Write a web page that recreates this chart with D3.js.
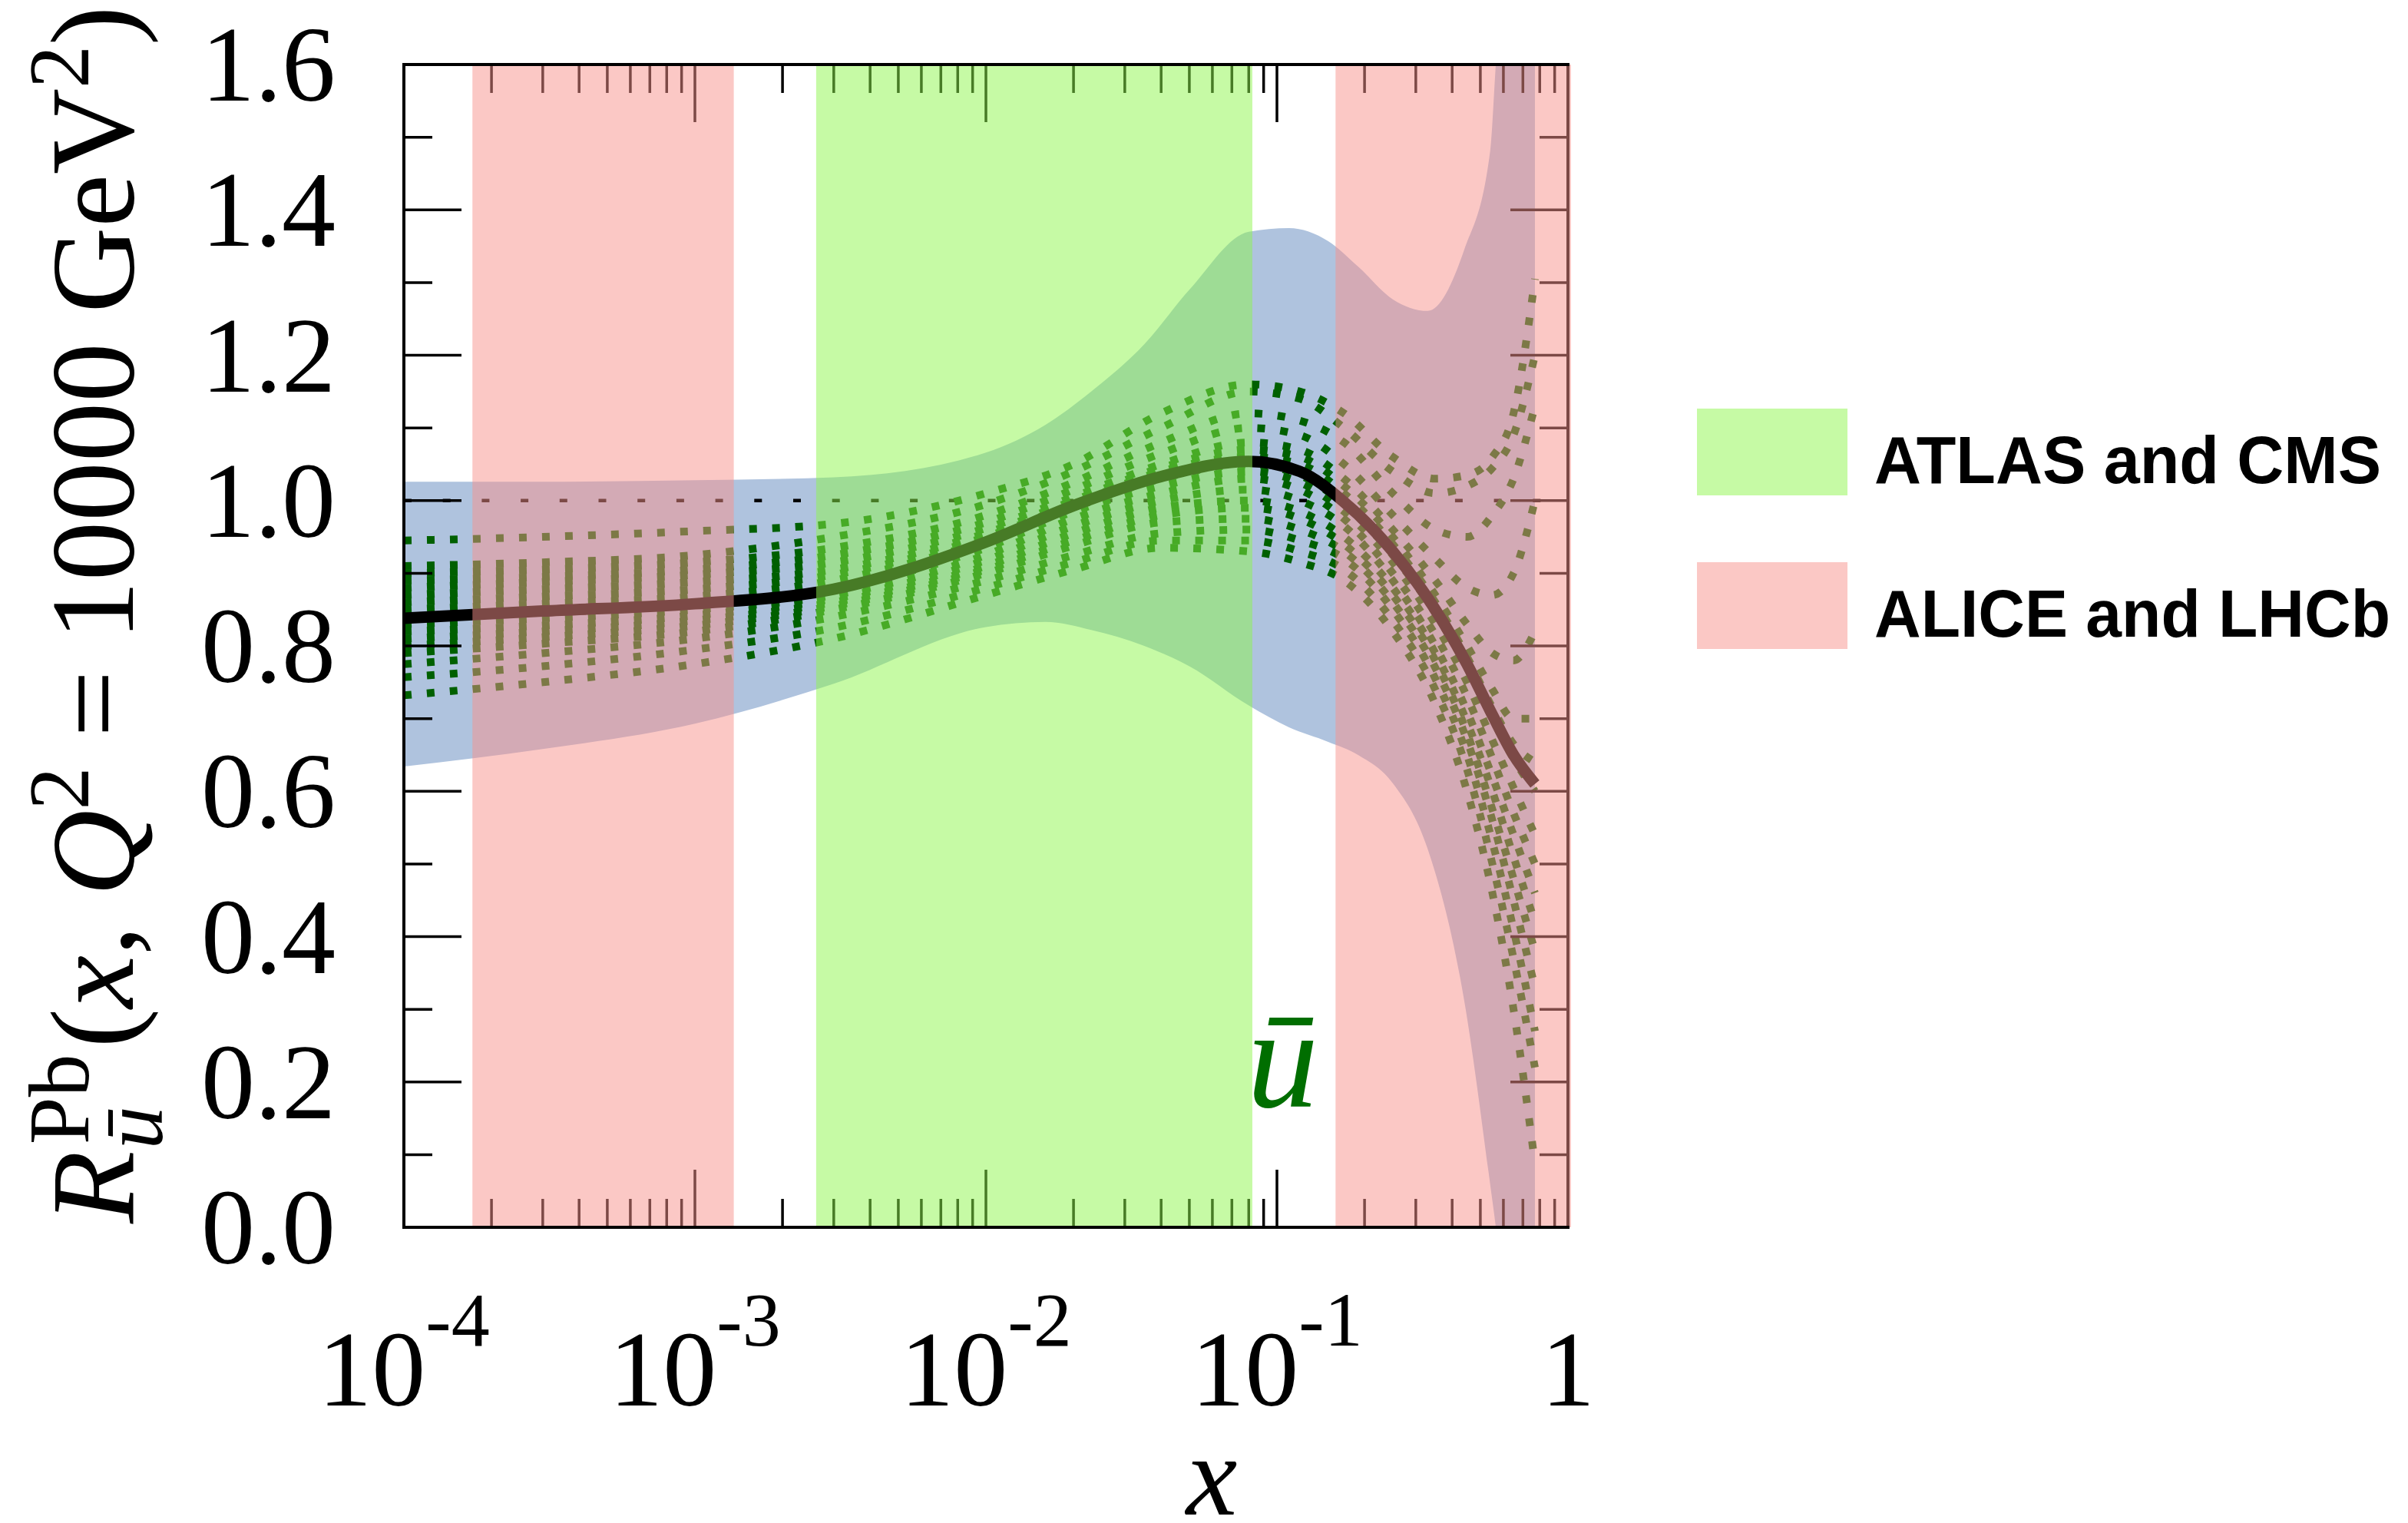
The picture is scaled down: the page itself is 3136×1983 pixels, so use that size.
<!DOCTYPE html>
<html>
<head>
<meta charset="utf-8">
<title>R ubar Pb</title>
<script src="https://cdn.jsdelivr.net/npm/d3@7"></script>
<style>
  body { margin: 0; background: #fff; }
  svg { display: block; }
</style>
</head>
<body>
<svg id="chart" width="3136" height="1983"></svg>
<script>
var xKnots = [1e-4, 3e-4, 1e-3, 3e-3, 1e-2, 2e-2, 4e-2, 0.08, 0.12, 0.17, 0.25, 0.35, 0.45, 0.55, 0.65, 0.77];

// central fit (thick line)
var central = [0.838, 0.848, 0.858, 0.878, 0.943, 0.993, 1.033, 1.054, 1.040, 0.998, 0.930, 0.850, 0.775, 0.705, 0.650, 0.610];

// error members (dotted lines)
var members = [
  [0.945, 0.950, 0.958, 0.968, 1.010, 1.050, 1.120, 1.160, 1.150, 1.120, 1.060, 1.030, 1.035, 1.060, 1.120, 1.305],
  [0.910, 0.915, 0.925, 0.950, 0.995, 1.040, 1.100, 1.150, 1.140, 1.100, 1.040, 1.010, 1.020, 1.045, 1.090, 1.200],
  [0.900, 0.905, 0.915, 0.935, 0.980, 1.025, 1.080, 1.120, 1.110, 1.080, 1.010, 0.960, 0.950, 0.980, 1.030, 1.130],
  [0.890, 0.895, 0.905, 0.925, 0.970, 1.015, 1.065, 1.100, 1.090, 1.050, 0.980, 0.920, 0.880, 0.870, 0.900, 1.000],
  [0.880, 0.888, 0.898, 0.915, 0.962, 1.005, 1.050, 1.080, 1.070, 1.030, 0.960, 0.890, 0.830, 0.790, 0.780, 0.820],
  [0.870, 0.878, 0.888, 0.905, 0.955, 1.000, 1.045, 1.070, 1.060, 1.020, 0.950, 0.870, 0.800, 0.740, 0.700, 0.700],
  [0.860, 0.868, 0.878, 0.898, 0.950, 0.995, 1.040, 1.060, 1.050, 1.010, 0.940, 0.860, 0.785, 0.715, 0.665, 0.640],
  [0.850, 0.858, 0.868, 0.890, 0.945, 0.990, 1.030, 1.050, 1.035, 0.995, 0.925, 0.845, 0.770, 0.700, 0.645, 0.600],
  [0.840, 0.848, 0.860, 0.880, 0.935, 0.985, 1.020, 1.040, 1.025, 0.985, 0.915, 0.830, 0.750, 0.670, 0.605, 0.540],
  [0.830, 0.838, 0.850, 0.870, 0.925, 0.975, 1.010, 1.030, 1.015, 0.975, 0.900, 0.815, 0.730, 0.645, 0.570, 0.500],
  [0.820, 0.828, 0.842, 0.865, 0.918, 0.965, 1.000, 1.015, 1.000, 0.965, 0.890, 0.800, 0.710, 0.620, 0.540, 0.460],
  [0.810, 0.820, 0.835, 0.860, 0.910, 0.955, 0.990, 1.000, 0.985, 0.950, 0.880, 0.790, 0.695, 0.600, 0.510, 0.420],
  [0.800, 0.812, 0.828, 0.855, 0.905, 0.945, 0.980, 0.990, 0.975, 0.940, 0.870, 0.780, 0.680, 0.575, 0.480, 0.380],
  [0.790, 0.803, 0.820, 0.850, 0.900, 0.938, 0.970, 0.975, 0.960, 0.930, 0.860, 0.770, 0.670, 0.560, 0.450, 0.330],
  [0.775, 0.790, 0.810, 0.840, 0.890, 0.925, 0.955, 0.960, 0.945, 0.920, 0.850, 0.755, 0.650, 0.530, 0.410, 0.270],
  [0.757, 0.772, 0.795, 0.825, 0.880, 0.915, 0.945, 0.945, 0.930, 0.905, 0.835, 0.740, 0.630, 0.500, 0.370, 0.220],
  [0.732, 0.750, 0.775, 0.810, 0.870, 0.905, 0.935, 0.930, 0.915, 0.890, 0.820, 0.720, 0.600, 0.460, 0.300, 0.088]
];

// uncertainty band (blue)
var bandX     = [1e-4, 3e-4, 1e-3, 3e-3, 1e-2, 1.6e-2, 2.3e-2, 3.5e-2, 5e-2, 8e-2, 0.11, 0.15, 0.19, 0.25, 0.33, 0.44, 0.54, 0.565, 0.65, 0.77];
var bandUpper = [1.026, 1.026, 1.028, 1.032, 1.066, 1.104, 1.150, 1.215, 1.290, 1.370, 1.375, 1.357, 1.322, 1.277, 1.261, 1.345, 1.480, 1.600, 1.950, 2.300];
var bandLower = [0.634, 0.658, 0.693, 0.748, 0.826, 0.833, 0.822, 0.800, 0.772, 0.718, 0.688, 0.668, 0.650, 0.611, 0.520, 0.312, 0.060, 0.000, -0.300, -0.600];

// kinematic ranges of the experiments
var alice = [[1.72e-4, 1.36e-3], [0.159, 1]];
var atlas = [[2.61e-3, 0.0823]];

var yTicks = [0, 0.2, 0.4, 0.6, 0.8, 1.0, 1.2, 1.4, 1.6];
var xTickVals = [1e-4, 1e-3, 1e-2, 1e-1, 1];
var xTickExps = ["-4", "-3", "-2", "-1", ""];
var legendLabels = ["ATLAS and CMS", "ALICE and LHCb"];

var serif = "'Liberation Serif', 'DejaVu Serif', serif";
var greenC = "#8df54b", redC = "#f8928c";

var svg = d3.select("#chart");
var pL = 526, pR = 2042, pT = 84, pB = 1598;

var x = d3.scaleLog().domain([1e-4, 1]).range([pL, pR]);
var y = d3.scaleLinear().domain([0, 1.6]).range([pB, pT]);

svg.append("rect").attr("width", 3136).attr("height", 1983).attr("fill", "#fff");

svg.append("defs").append("clipPath").attr("id", "plotclip")
  .append("rect").attr("x", pL).attr("y", pT).attr("width", pR - pL).attr("height", pB - pT);

var plot = svg.append("g").attr("clip-path", "url(#plotclip)");

// blue band
var area = d3.area()
  .x(function(d, i) { return x(bandX[i]); })
  .y0(function(d, i) { return y(bandLower[i]); })
  .y1(function(d, i) { return y(bandUpper[i]); })
  .curve(d3.curveMonotoneX);
plot.append("path").datum(bandX).attr("d", area).attr("fill", "#afc3de");

// line at 1
plot.append("line")
  .attr("x1", x(1e-4)).attr("x2", x(1)).attr("y1", y(1)).attr("y2", y(1))
  .attr("stroke", "#000").attr("stroke-width", 4.5).attr("stroke-dasharray", "10,40.7");

var line = d3.line()
  .x(function(d, i) { return x(xKnots[i]); })
  .y(function(d) { return y(d); })
  .curve(d3.curveMonotoneX);

plot.selectAll(".member").data(members).enter().append("path")
  .attr("class", "member")
  .attr("d", line)
  .attr("fill", "none")
  .attr("stroke", "#006000")
  .attr("stroke-width", 10)
  .attr("stroke-dasharray", "10,20");

plot.append("path").datum(central).attr("d", line)
  .attr("fill", "none").attr("stroke", "#000").attr("stroke-width", 15);

// ticks on all four sides
var ticks = svg.append("g").attr("stroke", "#000").attr("stroke-width", 3.5);
var xMinor = [];
[-4, -3, -2, -1].forEach(function(e) {
  for (var k = 1; k <= 9; k++) xMinor.push({v: k * Math.pow(10, e), major: k === 1});
});
xMinor.push({v: 1, major: true});
xMinor.forEach(function(t) {
  var len = t.major ? 75 : 37;
  var px = x(t.v);
  ticks.append("line").attr("x1", px).attr("x2", px).attr("y1", pB).attr("y2", pB - len);
  ticks.append("line").attr("x1", px).attr("x2", px).attr("y1", pT).attr("y2", pT + len);
});
d3.range(0, 17).forEach(function(i) {
  var len = i % 2 === 0 ? 75 : 37;
  var py = y(i / 10);
  ticks.append("line").attr("x1", pL).attr("x2", pL + len).attr("y1", py).attr("y2", py);
  ticks.append("line").attr("x1", pR).attr("x2", pR - len).attr("y1", py).attr("y2", py);
});
svg.append("line").attr("x1", pL).attr("x2", pL).attr("y1", pT - 2).attr("y2", pB + 2)
  .attr("stroke", "#000").attr("stroke-width", 4);
svg.append("line").attr("x1", pR).attr("x2", pR).attr("y1", pT - 2).attr("y2", pB + 2)
  .attr("stroke", "#000").attr("stroke-width", 4);

// experiment bands, half transparent over everything
alice.forEach(function(r) {
  var x1 = x(r[1]) + (r[1] === 1 ? 4 : 0);
  svg.append("rect").attr("x", x(r[0])).attr("y", pT).attr("width", x1 - x(r[0])).attr("height", pB - pT)
    .attr("fill", redC).attr("fill-opacity", 0.5);
});
atlas.forEach(function(r) {
  svg.append("rect").attr("x", x(r[0])).attr("y", pT).attr("width", x(r[1]) - x(r[0])).attr("height", pB - pT)
    .attr("fill", greenC).attr("fill-opacity", 0.5);
});

svg.append("line").attr("x1", pL - 2).attr("x2", pR + 2).attr("y1", pT).attr("y2", pT)
  .attr("stroke", "#000").attr("stroke-width", 4);
svg.append("line").attr("x1", pL - 2).attr("x2", pR + 2).attr("y1", pB).attr("y2", pB)
  .attr("stroke", "#000").attr("stroke-width", 4);

// y tick labels
svg.selectAll(".ylab").data(yTicks).enter().append("text")
  .attr("class", "ylab")
  .attr("x", 437).attr("y", function(d) { return y(d) + 47; })
  .attr("text-anchor", "end")
  .attr("font-family", serif).attr("font-size", 140)
  .text(d3.format(".1f"));

// x tick labels
xTickVals.forEach(function(v, i) {
  var t = svg.append("text").attr("x", x(v)).attr("y", 1830)
    .attr("text-anchor", "middle").attr("font-family", serif).attr("font-size", 140);
  if (xTickExps[i]) {
    t.append("tspan").text("10");
    t.append("tspan").attr("font-size", 100).attr("dy", -78).text(xTickExps[i]);
  } else {
    t.text("1");
  }
});

// x axis title
svg.append("text").attr("x", 1578).attr("y", 1972).attr("text-anchor", "middle")
  .attr("font-family", serif).attr("font-style", "italic").attr("font-size", 150).text("x");

// y axis title
var fs = 155;
var tg = svg.append("g").attr("transform", "translate(173,1593) rotate(-90)")
  .attr("font-family", serif).attr("fill", "#000");
var tR = tg.append("text").attr("font-style", "italic").attr("font-size", fs).text("R");
var wR = tR.node().getComputedTextLength();
var tSup = tg.append("text").attr("x", wR + 8).attr("y", -58).attr("font-size", 0.72 * fs).text("Pb");
var tSub = tg.append("text").attr("x", wR + 2).attr("y", 38).attr("font-style", "italic")
  .attr("font-size", 0.72 * fs).text("\u016B");
var wS = Math.max(tSup.node().getComputedTextLength() + 8, tSub.node().getComputedTextLength() + 2);
var rest = tg.append("text").attr("x", wR + wS + 8).attr("font-size", fs);
rest.append("tspan").text("(");
rest.append("tspan").attr("font-style", "italic").text("x");
rest.append("tspan").text(", ");
rest.append("tspan").attr("font-style", "italic").text("Q");
rest.append("tspan").attr("font-size", 0.72 * fs).attr("dy", -58).text("2");
rest.append("tspan").attr("dy", 58).text(" = 10000 GeV");
rest.append("tspan").attr("font-size", 0.72 * fs).attr("dy", -58).text("2");
rest.append("tspan").attr("dy", 58).text(")");

// flavour label
svg.append("text").attr("x", 1624).attr("y", 1441)
  .attr("font-family", serif).attr("font-style", "italic").attr("font-size", 186)
  .attr("fill", "#006e00").text("\u016B");

// legend
var legend = svg.append("g");
[greenC, redC].forEach(function(c, i) {
  legend.append("rect").attr("x", 2210).attr("y", 532 + i * 200).attr("width", 196).attr("height", 113)
    .attr("fill", c).attr("fill-opacity", 0.5);
  legend.append("text").attr("x", 2441).attr("y", 629 + i * 200)
    .attr("font-family", "'Liberation Sans', Arial, sans-serif").attr("font-weight", "bold")
    .attr("font-size", 88)
    .attr("textLength", i === 0 ? 660 : 672).attr("lengthAdjust", "spacingAndGlyphs")
    .text(legendLabels[i]);
});
</script>
</body>
</html>
